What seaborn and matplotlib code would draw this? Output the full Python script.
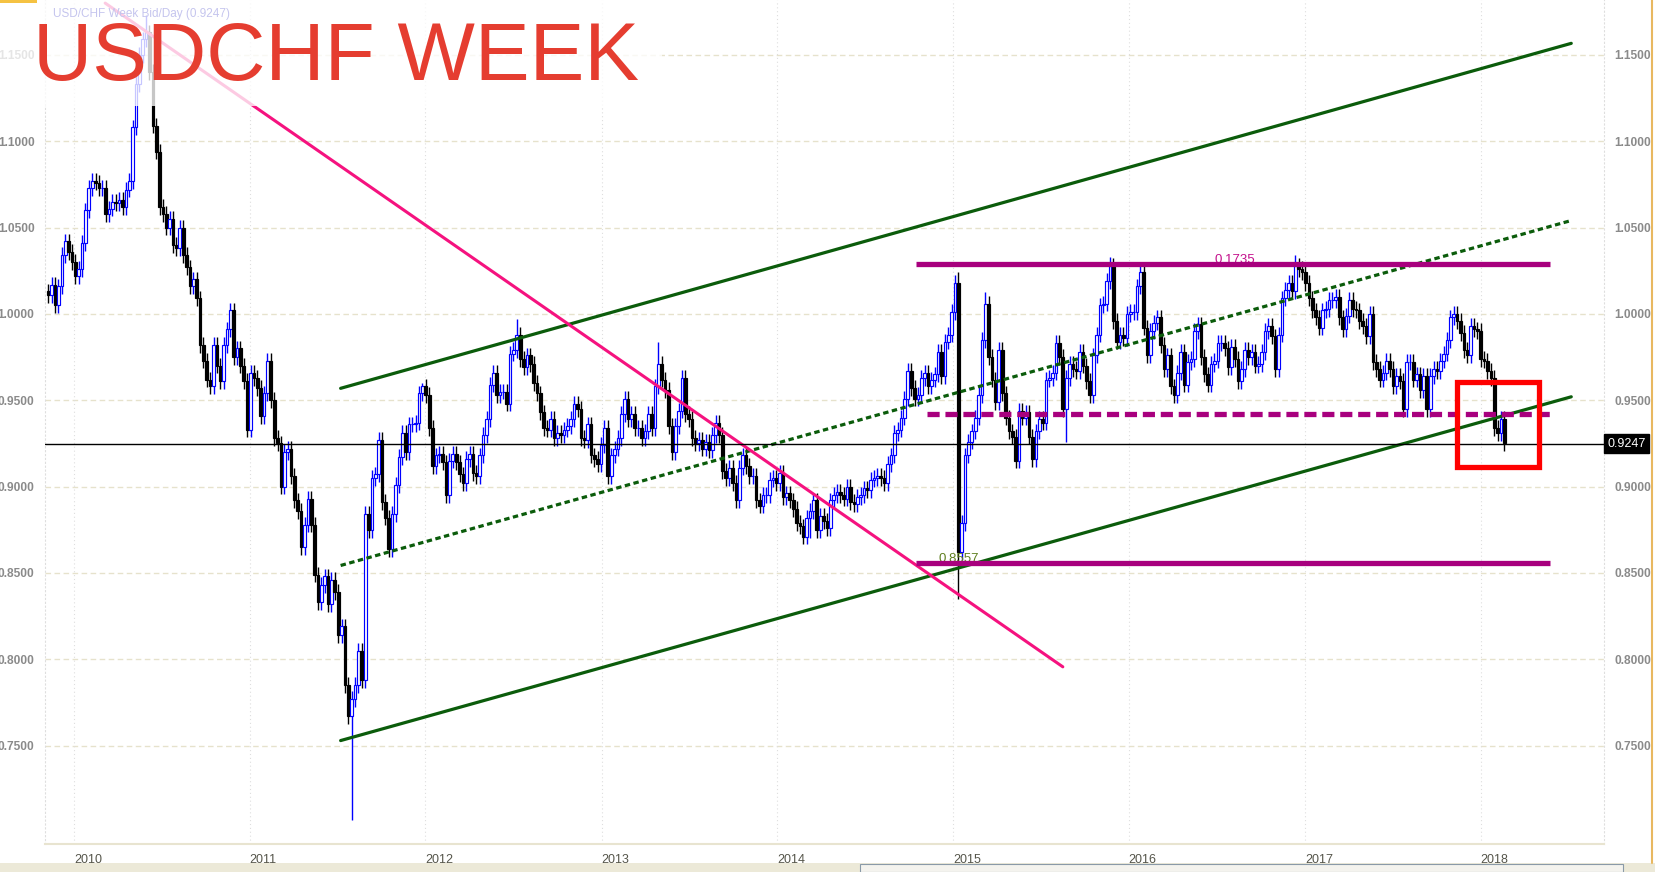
import numpy as np
import pandas as pd
import matplotlib
matplotlib.use('Agg')
import matplotlib.pyplot as plt
import matplotlib.dates as mdates
import matplotlib.transforms as mtransforms
from matplotlib import font_manager
from matplotlib.patches import Rectangle
from matplotlib.lines import Line2D
import seaborn as sns

# weekly closes, Nov 2009 -> Feb 2018
close_2009_2011 = [1.011, 1.017, 1.005, 1.016, 1.034, 1.042, 1.036, 1.030, 1.022, 1.026,
                   1.041, 1.060, 1.073, 1.077, 1.076, 1.073, 1.073, 1.058, 1.061, 1.065,
                   1.064, 1.066, 1.062, 1.072, 1.077, 1.108, 1.133, 1.150, 1.159, 1.163,
                   1.140, 1.109, 1.094, 1.062, 1.058, 1.050, 1.055, 1.040, 1.038, 1.050,
                   1.034, 1.027, 1.016, 1.020, 1.009, 0.982, 0.973, 0.962, 0.958, 0.982,
                   0.970, 0.961, 0.982, 0.991, 1.002, 0.975, 0.980, 0.970, 0.961, 0.933,
                   0.966, 0.963, 0.957, 0.941, 0.954, 0.973, 0.950, 0.928, 0.925]
close_2011_drop = [0.900, 0.920, 0.922, 0.906, 0.892, 0.886, 0.865, 0.878, 0.893, 0.878,
                   0.849, 0.833, 0.843, 0.848, 0.832, 0.846, 0.839, 0.814, 0.819, 0.785,
                   0.767, 0.777, 0.785, 0.805, 0.788, 0.884]
close_2011_2012 = [0.875, 0.905, 0.907, 0.927, 0.891, 0.882, 0.864, 0.884, 0.901, 0.917,
                   0.931, 0.920, 0.936, 0.936, 0.937, 0.954, 0.958, 0.953, 0.934, 0.912,
                   0.918, 0.919, 0.914, 0.895, 0.915, 0.919, 0.914, 0.907, 0.902, 0.916,
                   0.919, 0.908, 0.906, 0.918, 0.930, 0.939, 0.959, 0.966, 0.953, 0.955,
                   0.955, 0.948, 0.977, 0.979, 0.988]
close_2012_2014 = [0.974, 0.969, 0.976, 0.971, 0.960, 0.954, 0.943, 0.934, 0.933, 0.939,
                   0.928, 0.931, 0.930, 0.933, 0.935, 0.939, 0.948, 0.945, 0.928, 0.927,
                   0.936, 0.918, 0.916, 0.913, 0.924, 0.934, 0.906, 0.918, 0.922, 0.928,
                   0.942, 0.951, 0.939, 0.942, 0.934, 0.934, 0.928, 0.932, 0.942, 0.934,
                   0.958, 0.971, 0.962, 0.956, 0.935, 0.920, 0.935, 0.944, 0.963, 0.942,
                   0.939, 0.928, 0.925, 0.927, 0.922, 0.926, 0.921, 0.930, 0.937, 0.930,
                   0.909, 0.905, 0.911, 0.902, 0.892, 0.911, 0.918, 0.912, 0.906, 0.906,
                   0.892, 0.889, 0.895, 0.895, 0.904, 0.905, 0.902, 0.908, 0.894, 0.896,
                   0.892, 0.887, 0.879, 0.877, 0.871, 0.882, 0.886, 0.892, 0.875, 0.883,
                   0.880]
close_2014_crash = [0.876, 0.892, 0.895, 0.897, 0.895, 0.893, 0.900, 0.891, 0.890, 0.894,
                    0.895, 0.899, 0.898, 0.904, 0.905, 0.906, 0.905, 0.902, 0.913, 0.918,
                    0.931, 0.933, 0.940, 0.951, 0.967, 0.957, 0.951, 0.953, 0.963, 0.966,
                    0.958, 0.962, 0.965, 0.978, 0.964, 0.984, 0.988, 1.001, 1.018, 0.862]
close_2015_2018 = [0.879, 0.918, 0.926, 0.932, 0.940, 0.953, 0.985, 1.006, 0.975, 0.962,
                   0.949, 0.979, 0.954, 0.940, 0.932, 0.929, 0.915, 0.944, 0.940, 0.943,
                   0.929, 0.916, 0.932, 0.939, 0.937, 0.962, 0.963, 0.966, 0.983, 0.975,
                   0.945, 0.963, 0.971, 0.968, 0.967, 0.978, 0.970, 0.961, 0.953, 0.976,
                   0.988, 1.005, 1.006, 1.019, 1.028, 0.996, 0.984, 0.988, 0.986, 1.000,
                   1.001, 1.001, 1.016, 1.024, 0.992, 0.976, 0.990, 0.995, 0.998, 0.982,
                   0.968, 0.976, 0.958, 0.953, 0.966, 0.978, 0.959, 0.972, 0.974, 0.990,
                   0.994, 0.975, 0.965, 0.959, 0.971, 0.973, 0.983, 0.983, 0.980, 0.969,
                   0.981, 0.974, 0.961, 0.968, 0.979, 0.975, 0.978, 0.970, 0.971, 0.978,
                   0.990, 0.993, 0.987, 0.968, 0.988, 1.009, 1.014, 1.018, 1.013, 1.028,
                   1.026, 1.024, 1.018, 1.009, 1.002, 0.998, 0.992, 1.002, 1.003, 1.008,
                   1.008, 1.010, 0.998, 0.991, 0.999, 1.008, 1.003, 1.002, 0.996, 0.993,
                   0.987, 1.000, 0.972, 0.968, 0.962, 0.966, 0.973, 0.968, 0.958, 0.964,
                   0.961, 0.945, 0.972, 0.972, 0.962, 0.965, 0.956, 0.964, 0.945, 0.964,
                   0.968, 0.967, 0.973, 0.977, 0.985, 0.998, 1.000, 0.996, 0.989, 0.979,
                   0.976, 0.993, 0.991, 0.990, 0.974, 0.973, 0.967, 0.963, 0.934, 0.931,
                   0.939, 0.925]

first_week = '2009-11-09'
first_open = 1.013
wick = 0.0045
# notable wicks (week index -> price)
high_marks = {29: 1.1731, 111: 0.9600, 139: 0.9972, 181: 0.9840, 270: 1.0240,
              278: 1.0128, 315: 1.0328, 370: 1.0344}
low_marks = {90: 0.7067, 226: 0.8700, 270: 0.8350, 302: 0.9260}

# drawn lines
pink_dates = ['2010-03-07', '2015-08-17']
pink_prices = [1.180, 0.7956]
channel_dates = ['2011-07-09', '2018-07-08']
channel_top = [0.9569, 1.1567]
channel_mid = [0.8543, 1.0541]
channel_low = [0.7529, 0.9520]
range_dates = ['2014-10-16', '2018-05-25']
range_mid_dates = ['2014-11-07', '2018-05-25']
range_top = 1.0290
range_mid = 0.9423
range_bottom = 0.8557
box_dates = ['2017-11-13', '2018-05-01']
box_prices = [0.9111, 0.9606]
last_price = 0.9247

price_ticks = [0.75, 0.80, 0.85, 0.90, 0.95, 1.00, 1.05, 1.10, 1.15]
years = [2010, 2011, 2012, 2013, 2014, 2015, 2016, 2017, 2018]

weekly_close = (close_2009_2011 + close_2011_drop + close_2011_2012 +
                close_2012_2014 + close_2014_crash + close_2015_2018)
df = pd.DataFrame({'date': pd.date_range(first_week, periods=len(weekly_close), freq='7D'),
                   'close': weekly_close})
df['open'] = df['close'].shift(1).fillna(first_open)
df['high'] = df[['open', 'close']].max(axis=1) + wick
df['low'] = df[['open', 'close']].min(axis=1) - wick
for i, v in high_marks.items():
    df.loc[i, 'high'] = v
for i, v in low_marks.items():
    df.loc[i, 'low'] = v
df['up'] = df['close'] >= df['open']

sns.set_theme(style='white')
plt.rcParams['font.family'] = ['Liberation Sans', 'DejaVu Sans']
installed = {f.name for f in font_manager.fontManager.ttflist}
narrow = 'Liberation Sans Narrow' if 'Liberation Sans Narrow' in installed else 'Liberation Sans'

W, H = 1656, 872
fig = plt.figure(figsize=(W / 100, H / 100), dpi=100)
ax = fig.add_axes([45 / W, 28 / H, 1559 / W, 844 / H])
ax.set_facecolor('white')

# grid
for p in price_ticks:
    ax.axhline(p, color='#e6e2cc', lw=1.0, dashes=(4, 2.5), zorder=1)
for y in years:
    ax.axvline(pd.Timestamp(f'{y}-01-01'), color='#dedede', lw=0.8, ls=(0, (1, 2.5)), zorder=1)

# candles
x = mdates.date2num(df['date'])
edge = np.where(df['up'], '#0000ff', '#000000')
face = np.where(df['up'], '#ffffff', '#000000')
ax.vlines(x, df['low'], df['high'], colors=edge, lw=1.0, zorder=2)
ax.bar(x, (df['close'] - df['open']).abs(), bottom=df[['open', 'close']].min(axis=1),
       width=5.6, color=face, edgecolor=edge, linewidth=0.85, zorder=3)

# trend lines
dg = '#0b5c0b'
cd = pd.to_datetime(channel_dates)
sns.lineplot(x=cd, y=channel_top, ax=ax, color=dg, linewidth=2.3, zorder=4)
sns.lineplot(x=cd, y=channel_low, ax=ax, color=dg, linewidth=2.3, zorder=4)
ax.plot(cd, channel_mid, color=dg, lw=2.3, dashes=(1.7, 1.1), zorder=4)
sns.lineplot(x=pd.to_datetime(pink_dates), y=pink_prices, ax=ax, color='#f5127f',
             linewidth=2.2, zorder=4)

mg = '#a8007e'
rd = pd.to_datetime(range_dates)
ax.text(pd.Timestamp('2016-08-08'), range_top + 0.0006, '0.1735', color='#c4108c',
        fontsize=9.5, ha='center', va='baseline', zorder=3.5)
ax.text(pd.Timestamp('2015-01-12'), range_bottom + 0.0006, '0.8557', color='#5f7f1f',
        fontsize=9.5, ha='center', va='baseline', zorder=3.5)
ax.plot(rd, [range_top] * 2, color=mg, lw=3.8, solid_capstyle='butt', zorder=4)
ax.plot(rd, [range_bottom] * 2, color=mg, lw=3.8, solid_capstyle='butt', zorder=4)
ax.plot(pd.to_datetime(range_mid_dates), [range_mid] * 2, color=mg, lw=3.8,
        dashes=(2.3, 1.1), zorder=4)

ax.axhline(last_price, color='black', lw=1.0, zorder=4)
bd = mdates.date2num(pd.to_datetime(box_dates))
ax.add_patch(Rectangle((bd[0], box_prices[0]), bd[1] - bd[0], box_prices[1] - box_prices[0],
                       fill=False, edgecolor='#ff0000', lw=3.8, zorder=5))

# axes look
ax.set_xlabel('')
ax.set_ylabel('')
ax.set_xlim(pd.Timestamp('2009-11-02'), pd.Timestamp('2018-09-14'))
ax.set_ylim(0.6930, 1.1818)
ax.set_yticks(price_ticks)
ax.set_yticklabels([f'{p:.4f}' for p in price_ticks])
ax.tick_params(axis='y', left=False, right=False, labelleft=True, labelright=True,
               labelsize=8.6, labelcolor='#8a8a8a', pad=1.5)
for t in ax.yaxis.get_major_ticks():
    for lab in (t.label1, t.label2):
        lab.set_fontfamily(['Liberation Sans', 'DejaVu Sans'])
        lab.set_fontweight('bold')
ax.set_xticks([pd.Timestamp(f'{y}-01-01') for y in years])
ax.set_xticklabels([str(y) for y in years], ha='left')
ax.tick_params(axis='x', bottom=False, labelsize=9, labelcolor='#55554a', pad=1)
for lab in ax.get_xticklabels():
    lab.set_fontfamily([narrow, 'DejaVu Sans'])
ax.spines['top'].set_visible(False)
for s in ['left', 'right']:
    ax.spines[s].set_color('#dedede')
    ax.spines[s].set_linestyle((0, (1, 2.5)))
    ax.spines[s].set_linewidth(0.8)
ax.spines['bottom'].set_color('#e8e4d0')
ax.spines['bottom'].set_linewidth(1.5)
ax.grid(False)

tr = mtransforms.blended_transform_factory(ax.transAxes, ax.transData)
ax.text(1.002, last_price, '0.9247', transform=tr, ha='left', va='center', color='white',
        fontsize=9, bbox=dict(facecolor='black', edgecolor='black', pad=2.5), zorder=6)

# faded box behind the title
fig.add_artist(Rectangle((0, 1 - 106 / H), 662 / W, 106 / H, transform=fig.transFigure,
                         facecolor='white', alpha=0.78, edgecolor='none', zorder=3))
fig.text(53 / W, 1 - 17 / H, 'USD/CHF Week Bid/Day (0.9247)', fontsize=8.5,
         color='#c5c5ee', ha='left', va='baseline', zorder=4)
fig.text(33 / W, 1 - 80 / H, 'USDCHF WEEK', fontsize=59, color='#e53d30',
         ha='left', va='baseline', zorder=4)

# window chrome: scrollbar and border (drawn under the axes labels)
fig.add_artist(Rectangle((0, 0), 1, 9 / H, transform=fig.transFigure,
                         facecolor='#ece9d8', edgecolor='none', zorder=-2))
fig.add_artist(Rectangle((860 / W, 0.5 / H), 763 / W, 8 / H, transform=fig.transFigure,
                         facecolor='#f4f3ee', edgecolor='#8a9aa8', lw=0.8, zorder=-1))
fig.add_artist(Line2D([1652.5 / W] * 2, [9 / H, 1], transform=fig.transFigure,
                      color='#e8b860', lw=1.5, zorder=4))
fig.add_artist(Rectangle((0, 1 - 3 / H), 37 / W, 3 / H, transform=fig.transFigure,
                         facecolor='#f5c242', edgecolor='none', zorder=4))

fig.savefig('out.png', dpi=100)
